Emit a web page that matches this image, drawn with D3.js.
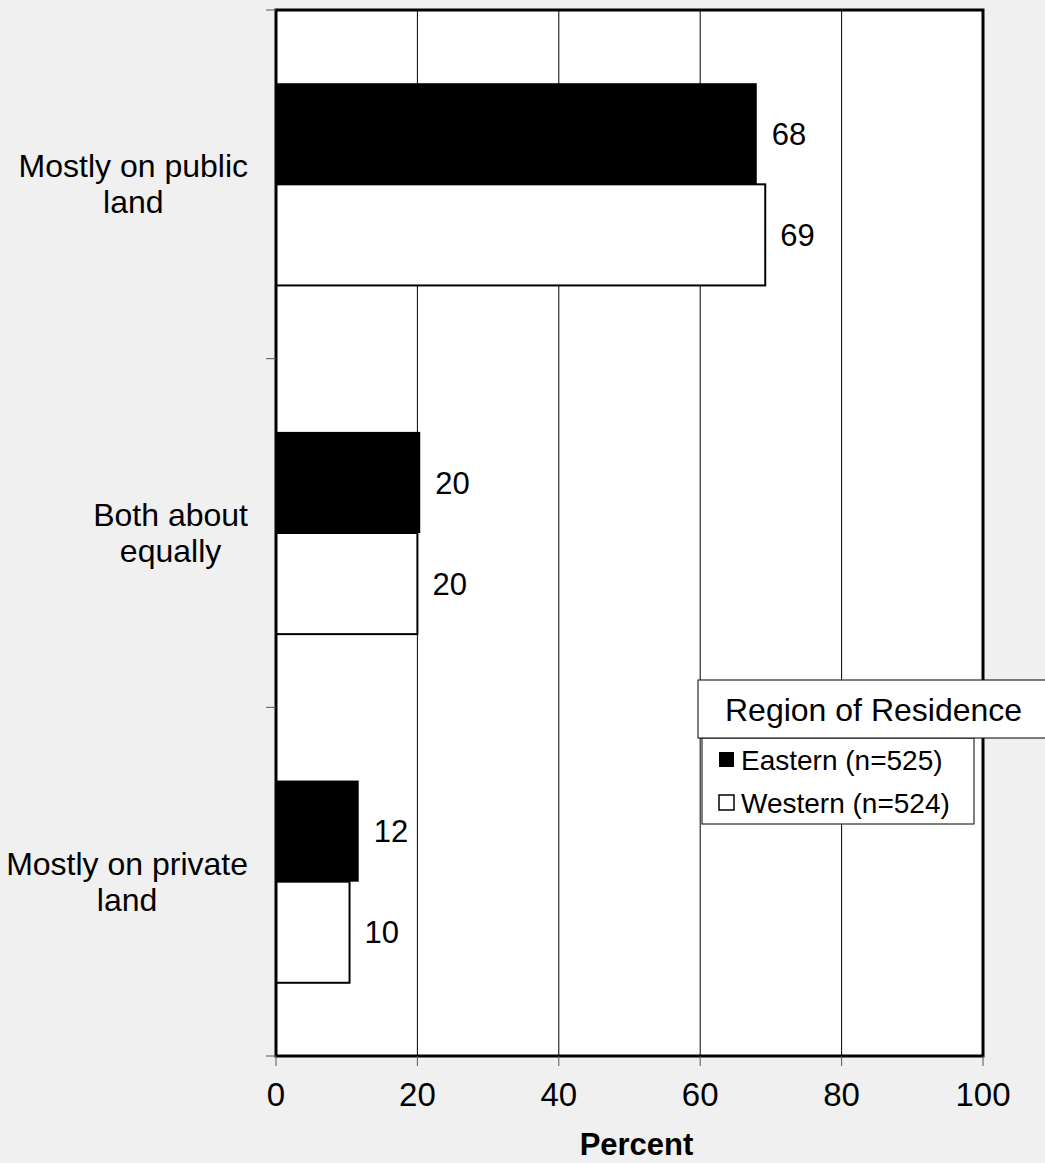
<!DOCTYPE html>
<html>
<head>
<meta charset="utf-8">
<script src="https://cdn.jsdelivr.net/npm/d3@7"></script>
<style>
  body { margin: 0; background: #f0f0f0; }
  text { font-family: "Liberation Sans", Arial, sans-serif; fill: #000; }
</style>
</head>
<body>
<script>
var categories = [["Mostly on public", "land"], ["Both about", "equally"], ["Mostly on private", "land"]];
var seriesNames = ["Eastern (n=525)", "Western (n=524)"];
var eastern = [68, 20.4, 11.7];
var western = [69.2, 20, 10.4];
var xTicks = [0, 20, 40, 60, 80, 100];
var legendTitle = "Region of Residence";
var xTitle = "Percent";

var margin = {top: 10, right: 62, bottom: 107, left: 276},
	width = 1045 - margin.left - margin.right,
	height = 1163 - margin.top - margin.bottom;

var svg = d3.select("body").append("svg")
	.attr("width", 1045)
	.attr("height", 1163)
	.append("g")
	.attr("transform", "translate(" + margin.left + "," + margin.top + ")");

var x = d3.scaleLinear().domain([0, 100]).range([0, width]);

var y = d3.scaleBand()
	.domain(d3.range(categories.length))
	.range([0, height])
	.paddingInner(0.42)
	.paddingOuter(0.21);

var ys = d3.scaleBand().domain([0, 1]).range([0, y.bandwidth()]);

// plot background
svg.append("rect")
	.attr("width", width).attr("height", height)
	.attr("fill", "#fff");

// gridlines
svg.selectAll(".grid")
	.data(xTicks.slice(1, -1))
	.enter().append("line")
	.attr("x1", function(d) { return x(d); })
	.attr("x2", function(d) { return x(d); })
	.attr("y1", 0).attr("y2", height)
	.attr("stroke", "#000").attr("stroke-width", 1);

var data = [];
categories.forEach(function(c, i) {
	data.push({cat: i, s: 0, value: eastern[i]});
	data.push({cat: i, s: 1, value: western[i]});
});

svg.selectAll(".bar")
	.data(data)
	.enter().append("rect")
	.attr("x", 0)
	.attr("y", function(d) { return y(d.cat) + ys(d.s); })
	.attr("width", function(d) { return x(d.value); })
	.attr("height", ys.bandwidth())
	.attr("fill", function(d) { return d.s === 0 ? "#000" : "#fff"; })
	.attr("stroke", "#000")
	.attr("stroke-width", function(d) { return d.s === 0 ? 0 : 2; });

svg.selectAll(".val")
	.data(data)
	.enter().append("text")
	.attr("x", function(d) { return x(d.value) + 15; })
	.attr("y", function(d) { return y(d.cat) + ys(d.s) + ys.bandwidth() / 2; })
	.attr("dy", "0.36em")
	.style("font-size", "31px")
	.text(function(d) { return d3.format(".0f")(d.value); });

// frame
svg.append("rect")
	.attr("width", width).attr("height", height)
	.attr("fill", "none")
	.attr("stroke", "#000").attr("stroke-width", 3);

// x axis ticks
var xAxis = svg.append("g").attr("transform", "translate(0," + height + ")");
xAxis.selectAll("line")
	.data(xTicks)
	.enter().append("line")
	.attr("x1", function(d) { return x(d); })
	.attr("x2", function(d) { return x(d); })
	.attr("y1", 0).attr("y2", 10)
	.attr("stroke", "#555").attr("stroke-width", 1);
xAxis.selectAll("text")
	.data(xTicks)
	.enter().append("text")
	.attr("x", function(d) { return x(d); })
	.attr("y", 50)
	.attr("text-anchor", "middle")
	.style("font-size", "33px")
	.text(function(d) { return d; });

svg.append("text")
	.attr("x", width / 2 + 7)
	.attr("y", height + 99)
	.attr("text-anchor", "middle")
	.style("font-size", "31px")
	.style("font-weight", "bold")
	.text(xTitle);

// y axis ticks at category boundaries
svg.selectAll(".ytick")
	.data(d3.range(categories.length + 1))
	.enter().append("line")
	.attr("x1", -10).attr("x2", 0)
	.attr("y1", function(i) { return i * height / categories.length; })
	.attr("y2", function(i) { return i * height / categories.length; })
	.attr("stroke", "#555").attr("stroke-width", 1);

// category labels
var catG = svg.selectAll(".cat")
	.data(categories)
	.enter().append("text")
	.style("font-size", "32px")
	.attr("text-anchor", "middle");
catG.each(function(lines, i) {
	var t = d3.select(this);
	var cy = y(i) + y.bandwidth() / 2;
	lines.forEach(function(l, j) {
		t.append("tspan").attr("x", 0).attr("y", cy - 7 + j * 36).text(l);
	});
	var w = this.getBBox().width;
	t.selectAll("tspan").attr("x", -28 - w / 2);
});

// legend
var lg = svg.append("g").attr("transform", "translate(" + (698 - margin.left) + "," + (680 - margin.top) + ")");
lg.append("rect")
	.attr("x", 4).attr("y", 58).attr("width", 272).attr("height", 86)
	.attr("fill", "#fff").attr("stroke", "#000").attr("stroke-width", 1);
lg.append("rect")
	.attr("x", 0).attr("y", 0).attr("width", 360).attr("height", 58)
	.attr("fill", "#fff").attr("stroke", "#000").attr("stroke-width", 1);
lg.append("text")
	.attr("x", 27).attr("y", 41)
	.style("font-size", "32px")
	.text(legendTitle);
seriesNames.forEach(function(name, i) {
	var gy = 72 + i * 43;
	lg.append("rect")
		.attr("x", 21).attr("y", gy).attr("width", 15).attr("height", 15)
		.attr("fill", i === 0 ? "#000" : "#fff")
		.attr("stroke", "#000").attr("stroke-width", i === 0 ? 0 : 1.5);
	lg.append("text")
		.attr("x", 43).attr("y", gy + 18)
		.style("font-size", "28px")
		.text(name);
});
</script>
</body>
</html>
